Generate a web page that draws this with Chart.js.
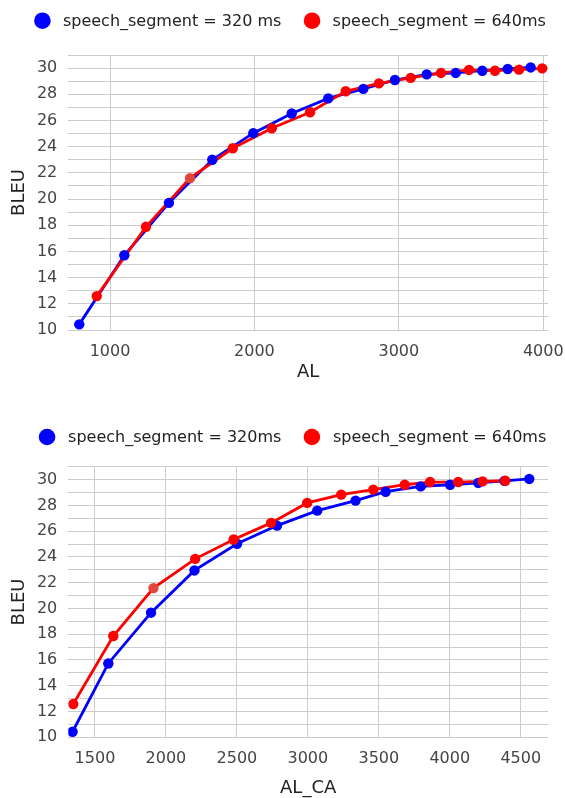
<!DOCTYPE html>
<html><head><meta charset="utf-8">
<script src="https://cdn.jsdelivr.net/npm/chart.js@4.4.1/dist/chart.umd.min.js"></script>
<style>
html,body{margin:0;padding:0;background:#fff;overflow:hidden;width:565px;height:798px;}
#w1{position:absolute;left:0;top:0;width:565px;height:390px;}
#w2{position:absolute;left:0;top:400px;width:565px;height:400px;}
</style></head><body>
<div id="w1"><canvas id="c1"></canvas></div>
<div id="w2"><canvas id="c2"></canvas></div>
<script>
// ---- data ----
const legend1 = ['speech_segment = 320 ms', 'speech_segment = 640ms'];
const legend2 = ['speech_segment = 320ms', 'speech_segment = 640ms'];
const xTitle1 = 'AL';
const xTitle2 = 'AL_CA';
const yTitle = 'BLEU';

const al320   = [787, 1099, 1408, 1708, 1992, 2258, 2511, 2754, 2973, 3193, 3394, 3578, 3754, 3913];
const bleu320 = [10.43, 15.71, 19.71, 23.0, 25.03, 26.53, 27.69, 28.41, 29.09, 29.52, 29.63, 29.80, 29.93, 30.05];
const al640   = [908, 1249, 1554, 1850, 2120, 2385, 2632, 2862, 3082, 3292, 3486, 3666, 3832, 3993];
const bleu640 = [12.59, 17.88, 21.6, 23.88, 25.41, 26.63, 28.23, 28.83, 29.25, 29.63, 29.86, 29.80, 29.88, 29.98];

const alca320   = [1342, 1594, 1895, 2201, 2501, 2783, 3066, 3336, 3548, 3795, 4002, 4200, 4385, 4560];
const bleuCa320 = [10.43, 15.73, 19.67, 22.95, 25.02, 26.43, 27.59, 28.37, 29.06, 29.47, 29.6, 29.74, 29.9, 30.05];
const alca640   = [1347, 1629, 1912, 2206, 2477, 2741, 2995, 3235, 3461, 3682, 3861, 4059, 4231, 4391];
const bleuCa640 = [12.58, 17.86, 21.58, 23.85, 25.35, 26.64, 28.19, 28.83, 29.22, 29.6, 29.81, 29.81, 29.86, 29.91];

const xTicks1 = [1000, 2000, 3000, 4000];
const xTicks2 = [1500, 2000, 2500, 3000, 3500, 4000, 4500];
const yMin = 10, yMax = 31;

// ---- style ----
const BLUE = '#0000ff', RED = '#ff0000', RED_ALT = '#e3473b';
const FAMILY = "'DejaVu Sans', sans-serif";
Chart.defaults.font.family = FAMILY;

const customLegend = {
  id: 'customLegend',
  afterDraw(chart, args, o) {
    const ctx = chart.ctx;
    const sets = chart.data.datasets.filter(d => d.inLegend);
    ctx.save();
    ctx.font = o.fontSize + 'px ' + FAMILY;
    ctx.textBaseline = 'middle';
    ctx.textAlign = 'left';
    const widths = sets.map(d => ctx.measureText(d.label).width);
    let total = o.radius;
    widths.forEach((w, i) => { total += o.textGap + w + (i < widths.length - 1 ? o.itemGap : 0); });
    let cx = o.centerX - total / 2 + o.radius;
    sets.forEach((d, i) => {
      ctx.fillStyle = d.borderColor;
      ctx.beginPath();
      ctx.arc(cx, o.y, o.radius, 0, Math.PI * 2);
      ctx.fill();
      ctx.fillStyle = o.color;
      ctx.fillText(d.label, cx + o.textGap, o.y + 1);
      cx += o.textGap + widths[i] + o.itemGap;
    });
    ctx.restore();
  }
};

function pts(xs, ys) { return xs.map((v, i) => ({x: v, y: ys[i]})); }

function makeChart(id, p) {
  const redPointColors = p.y640.map((v, i) => i === 2 ? RED_ALT : RED);
  return new Chart(document.getElementById(id), {
    type: 'line',
    data: {
      datasets: [
        {label: p.labels[0], inLegend: true, data: pts(p.x320, p.y320), borderColor: BLUE, backgroundColor: BLUE,
         borderWidth: 2.8, pointRadius: 0, tension: 0, order: 3},
        {label: p.labels[1], inLegend: true, data: pts(p.x640, p.y640), borderColor: RED, backgroundColor: RED,
         borderWidth: 2.8, pointRadius: 0, tension: 0, order: 2},
        {label: p.labels[0] + ' points', data: pts(p.x320, p.y320), showLine: false, borderColor: BLUE,
         pointBackgroundColor: BLUE, pointBorderWidth: 0, pointRadius: 5.2, order: 1},
        {label: p.labels[1] + ' points', data: pts(p.x640, p.y640), showLine: false, borderColor: RED,
         pointBackgroundColor: redPointColors, pointBorderWidth: 0, pointRadius: 5.2, order: 0}
      ]
    },
    options: {
      responsive: true,
      maintainAspectRatio: false,
      animation: false,
      events: [],
      layout: {padding: p.padding},
      plugins: {
        legend: {display: false},
        tooltip: {enabled: false},
        customLegend: p.legend
      },
      scales: {
        x: {
          type: 'linear', min: p.xMin, max: p.xMax,
          afterBuildTicks: ax => { ax.ticks = p.xTicks.map(v => ({value: v})); },
          afterFit: ax => { ax.height = p.xAxisHeight; ax.paddingLeft = 0; ax.paddingRight = 0; },
          grid: {color: '#cccccc', lineWidth: 1, drawTicks: false},
          border: {display: false},
          ticks: {font: {size: 16}, color: '#444444', padding: 12, autoSkip: false, maxRotation: 0,
                  callback: v => String(v)},
          title: {display: true, text: p.xTitle, font: {size: 18}, color: '#222222', padding: p.xTitlePad}
        },
        y: {
          min: yMin, max: yMax,
          afterFit: ax => { ax.width = 59.95; ax.paddingTop = 0; ax.paddingBottom = 0; },
          grid: {color: '#cccccc', lineWidth: 1, drawTicks: false},
          border: {display: false},
          ticks: {stepSize: 1, autoSkip: false, font: {size: 16}, color: '#444444', padding: 11,
                  callback: v => (v % 2 === 0 ? String(v) : '')},
          title: {display: true, text: yTitle, font: {size: 18}, color: '#222222', padding: {top: 0, bottom: 7}}
        }
      }
    },
    plugins: [customLegend]
  });
}

makeChart('c1', {
  labels: legend1, x320: al320, y320: bleu320, x640: al640, y640: bleu640,
  xMin: 711, xMax: 4033, xTicks: xTicks1, xTitle: xTitle1,
  xTitlePad: {top: 0, bottom: 4}, xAxisHeight: 56.8,
  padding: {top: 55, left: 8.35, right: 17, bottom: 3.2},
  legend: {fontSize: 16, color: '#222222', radius: 8.3, textGap: 20.5, itemGap: 30.7, centerX: 290, y: 20.7}
});
makeChart('c2', {
  labels: legend2, x320: alca320, y320: bleuCa320, x640: alca640, y640: bleuCa640,
  xMin: 1312, xMax: 4692, xTicks: xTicks2, xTitle: xTitle2,
  xTitlePad: {top: 9, bottom: 0}, xAxisHeight: 61.8,
  padding: {top: 66.7, left: 8.35, right: 17, bottom: 0.9},
  legend: {fontSize: 16, color: '#222222', radius: 8.3, textGap: 21, itemGap: 30.5, centerX: 292.5, y: 37}
});
</script>
</body></html>
